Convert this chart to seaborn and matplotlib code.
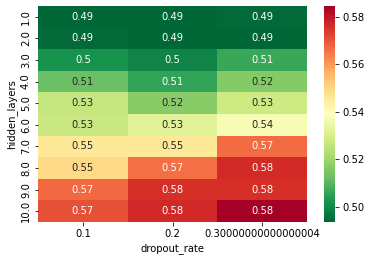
import numpy as np
import pandas as pd
import matplotlib
matplotlib.use('Agg')
import matplotlib.pyplot as plt
import seaborn as sns

# grid search results (mean score per setting)
hidden_layers = [1.0, 2.0, 3.0, 4.0, 5.0, 6.0, 7.0, 8.0, 9.0, 10.0]
dropout_rate = [0.1, 0.2, 0.30000000000000004]
scores = [
    [0.4938, 0.4936, 0.4940],
    [0.4940, 0.4937, 0.4939],
    [0.5020, 0.4990, 0.5065],
    [0.5125, 0.5055, 0.5160],
    [0.5265, 0.5170, 0.5280],
    [0.5270, 0.5320, 0.5370],
    [0.5455, 0.5455, 0.5665],
    [0.5490, 0.5660, 0.5760],
    [0.5670, 0.5755, 0.5755],
    [0.5705, 0.5765, 0.5845],
]


def main():
    df = pd.DataFrame(scores, index=pd.Index(hidden_layers, name='hidden_layers'),
                      columns=pd.Index(dropout_rate, name='dropout_rate'))

    fig = plt.figure(figsize=(370 / 72, 262 / 72), dpi=72)
    ax = fig.add_axes([38 / 370, 1 - 222 / 262, 269 / 370, 216 / 262])
    cax = fig.add_axes([324 / 370, 1 - 222 / 262, 11 / 370, 216 / 262])

    sns.heatmap(df, annot=True, cmap='RdYlGn_r', ax=ax, cbar_ax=cax)
    ax.set_yticklabels(ax.get_yticklabels(), rotation=90, va='center')
    ax.set_xticklabels(ax.get_xticklabels(), rotation=0)

    fig.savefig('out.png', dpi=72)


if __name__ == '__main__':
    main()
